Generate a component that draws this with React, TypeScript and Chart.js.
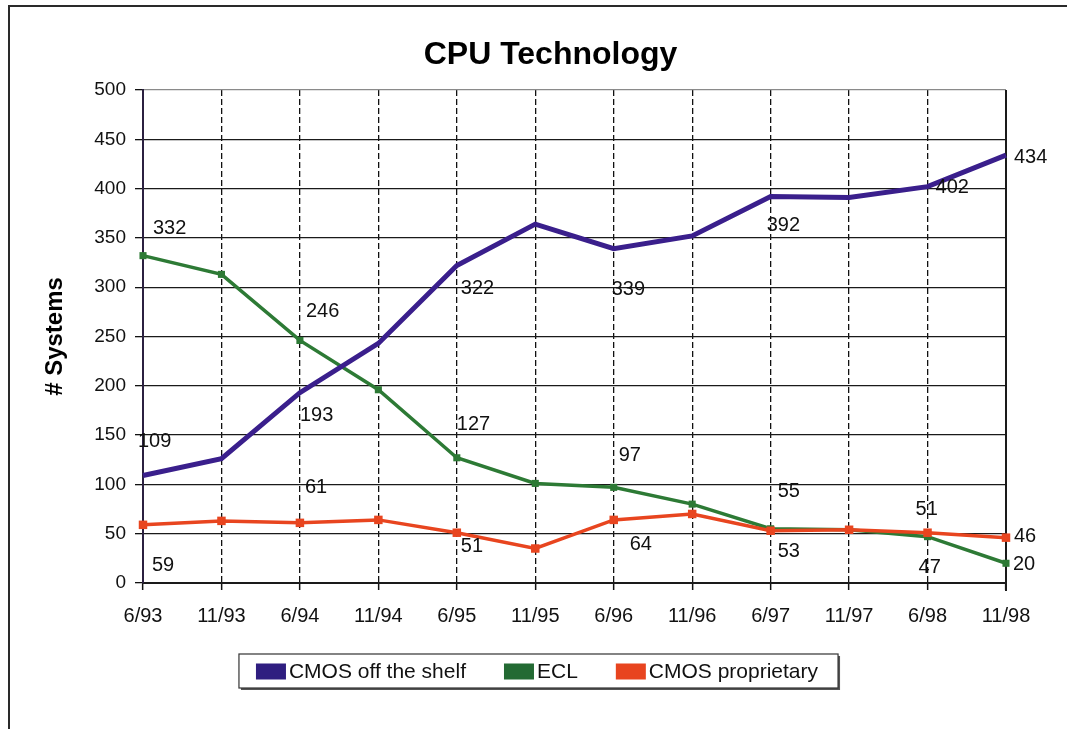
import { useEffect, useRef } from 'react';
import { Chart, registerables } from 'chart.js';

Chart.register(...registerables);

const chartTitle = 'CPU Technology';
const yAxisTitle = '# Systems';
const categories = ['6/93', '11/93', '6/94', '11/94', '6/95', '11/95', '6/96', '11/96', '6/97', '11/97', '6/98', '11/98'];
const seriesNames = ['CMOS off the shelf', 'ECL', 'CMOS proprietary'];
const cmosOffShelf = [109, 126, 193, 243, 322, 364, 339, 352, 392, 391, 402, 434];
const ecl = [332, 313, 246, 196, 127, 101, 97, 80, 55, 54, 47, 20];
const cmosProprietary = [59, 63, 61, 64, 51, 35, 64, 70, 53, 54, 51, 46];
const yMin = 0;
const yMax = 500;
const yStep = 50;

// Styling (not data)
const FONT = '"Liberation Sans", Arial, Helvetica, sans-serif';
const colors = ['#3a1f8c', '#2d7a35', '#e8451f'];
const swatchColors = ['#2f1e80', '#236a33', '#e8441f'];
// which points carry a value label, and where the label sits relative to the point [dx, dy]
const labelPlacement: Record<number, [number, number]>[] = [
  { 0: [-5, -34], 2: [0, 23], 4: [4, 23], 6: [-2, 41], 8: [-4, 29], 10: [8, 1], 11: [8, 2] },
  { 0: [10, -27], 2: [6, -29], 4: [0, -33], 6: [5, -32], 8: [7, -37], 10: [-9, 31], 11: [7, 1] },
  { 0: [9, 41], 2: [5, -35], 4: [4, 14], 6: [16, 25], 8: [7, 21], 10: [-12, -23], 11: [8, -1] },
];

const frameLines = {
  id: 'frameLines',
  beforeDatasetsDraw(chart: any) {
    const { ctx, chartArea } = chart;
    ctx.save();
    ctx.strokeStyle = '#1a1a1a';
    ctx.lineWidth = 2;
    ctx.beginPath();
    ctx.moveTo(chartArea.right, chartArea.top);
    ctx.lineTo(chartArea.right, chartArea.bottom + 8);
    ctx.stroke();
    ctx.restore();
  },
};

const valueLabels = {
  id: 'valueLabels',
  afterDatasetsDraw(chart: any) {
    const { ctx } = chart;
    ctx.save();
    ctx.font = `20px ${FONT}`;
    ctx.fillStyle = '#111';
    ctx.textAlign = 'left';
    ctx.textBaseline = 'middle';
    chart.data.datasets.forEach((ds: any, i: number) => {
      const meta = chart.getDatasetMeta(i);
      const place = labelPlacement[i] || {};
      Object.keys(place).forEach((k) => {
        const idx = Number(k);
        const pt = meta.data[idx];
        if (!pt) return;
        const [dx, dy] = place[idx];
        ctx.fillText(String(ds.data[idx]), pt.x + dx, pt.y + dy);
      });
    });
    ctx.restore();
  },
};

const boxedLegend = {
  id: 'boxedLegend',
  afterDraw(chart: any) {
    const { ctx } = chart;
    const centerX = 528.5;
    const top = 647;
    const height = 34;
    const swW = 30;
    const swH = 16;
    const gap = 3;
    const itemGap = 38;
    const padL = 17;
    const padR = 20;
    ctx.save();
    ctx.font = `21px ${FONT}`;
    const items = chart.data.datasets.map((ds: any, i: number) => ({
      text: ds.label as string,
      color: swatchColors[i],
      w: ctx.measureText(ds.label).width,
    }));
    let total = padL + padR;
    items.forEach((it: any, i: number) => {
      total += swW + gap + it.w + (i > 0 ? itemGap : 0);
    });
    const left = centerX - total / 2;
    ctx.fillStyle = '#555';
    ctx.fillRect(left + 2, top + 2, total, height);
    ctx.fillStyle = '#fff';
    ctx.fillRect(left, top, total, height);
    ctx.strokeStyle = '#333';
    ctx.lineWidth = 1.2;
    ctx.strokeRect(left, top, total, height);
    let x = left + padL;
    const cy = top + height / 2 + 0.5;
    ctx.textBaseline = 'middle';
    ctx.textAlign = 'left';
    items.forEach((it: any, i: number) => {
      if (i > 0) x += itemGap;
      ctx.fillStyle = it.color;
      ctx.fillRect(x, cy - swH / 2, swW, swH);
      x += swW + gap;
      ctx.fillStyle = '#111';
      ctx.fillText(it.text, x, cy + 1);
      x += it.w;
    });
    ctx.restore();
  },
};

export default function App() {
  const ref = useRef<HTMLCanvasElement>(null);
  useEffect(() => {
    if (!ref.current) return;
    const chart = new Chart(ref.current, {
      type: 'line',
      data: {
        labels: categories,
        datasets: [
          {
            label: seriesNames[0],
            data: cmosOffShelf,
            borderColor: colors[0],
            backgroundColor: colors[0],
            borderWidth: 5,
            pointRadius: 0,
            tension: 0,
            order: 0,
          },
          {
            label: seriesNames[1],
            data: ecl,
            borderColor: colors[1],
            backgroundColor: colors[1],
            borderWidth: 3.5,
            pointStyle: 'rect',
            pointRadius: 5,
            pointBorderWidth: 0,
            tension: 0,
            order: 2,
          },
          {
            label: seriesNames[2],
            data: cmosProprietary,
            borderColor: colors[2],
            backgroundColor: colors[2],
            borderWidth: 3.5,
            pointStyle: 'rect',
            pointRadius: 6,
            pointBorderWidth: 0,
            tension: 0,
            order: 1,
          },
        ],
      },
      options: {
        responsive: false,
        animation: false,
        layout: { padding: 0 },
        font: { family: FONT },
        plugins: {
          legend: { display: false },
          tooltip: { enabled: false },
          title: {
            display: true,
            text: chartTitle,
            color: '#000',
            font: { family: FONT, size: 32, weight: 'bold' },
            padding: { top: 29, bottom: 15.6 },
          },
        },
        scales: {
          x: {
            type: 'category',
            offset: false,
            afterFit: (scale: any) => {
              scale.height = 146;
            },
            grid: {
              color: '#111',
              lineWidth: 1.3,
              tickLength: 7,
              tickColor: '#111',
              tickWidth: 1.5,
            },
            border: { display: true, color: '#1a1a1a', width: 2, dash: [6, 3] },
            ticks: {
              color: '#111',
              font: { family: FONT, size: 20 },
              padding: 14,
              autoSkip: false,
              maxRotation: 0,
            },
          },
          y: {
            min: yMin,
            max: yMax,
            afterFit: (scale: any) => {
              scale.width = 133;
            },
            grid: {
              color: (c: any) => (c.tick && c.tick.value === yMax ? '#8a8a8a' : '#1a1a1a'),
              lineWidth: 1.3,
              tickLength: 8,
              tickColor: '#111',
            },
            border: { display: true, color: '#2b2040', width: 2 },
            ticks: {
              stepSize: yStep,
              color: '#111',
              font: { family: FONT, size: 19 },
              padding: 9,
            },
            title: {
              display: true,
              text: yAxisTitle,
              color: '#000',
              font: { family: FONT, size: 24, weight: 'bold' },
              padding: { top: 31, bottom: 0 },
            },
          },
          yRightSpace: {
            position: 'right',
            min: yMin,
            max: yMax,
            afterFit: (scale: any) => {
              scale.width = 85;
            },
            grid: { display: false, drawTicks: false },
            border: { display: false },
            ticks: { display: false },
          },
        },
      },
      plugins: [frameLines, valueLabels, boxedLegend],
    } as any);
    return () => chart.destroy();
  }, []);

  return (
    <div
      style={{
        position: 'absolute',
        left: 8,
        top: 5,
        width: 1057,
        height: 722,
        borderLeft: '2px solid #2a2a2a',
        borderTop: '2px solid #2a2a2a',
        overflow: 'hidden',
        background: '#fff',
      }}
    >
      <canvas ref={ref} width={1081} height={722} style={{ display: 'block', width: 1081, height: 722 }} />
    </div>
  );
}
